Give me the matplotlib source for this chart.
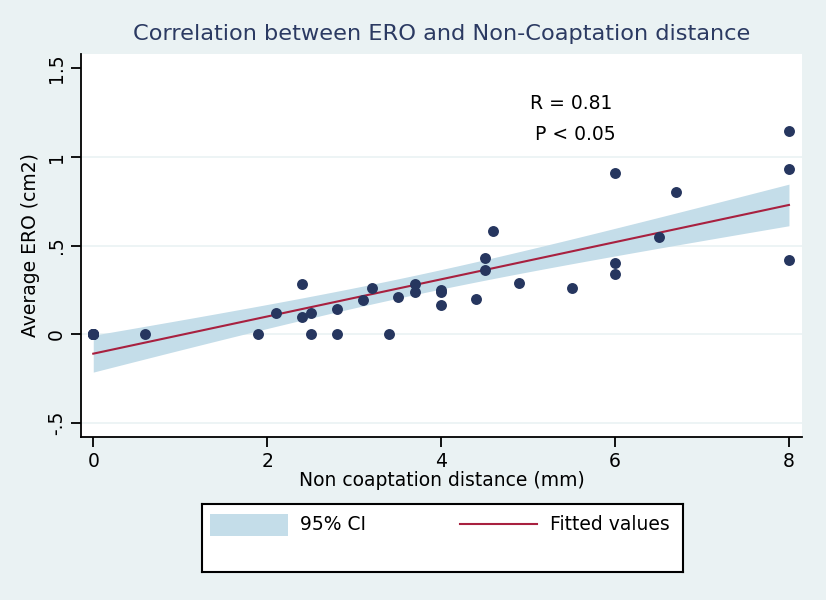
import numpy as np
import matplotlib
matplotlib.use("Agg")
import matplotlib.pyplot as plt
from matplotlib.patches import Rectangle
from matplotlib.lines import Line2D

# distance (mm) vs average ERO (cm2)
# (several patients overlap at the origin)
distance = [0, 0, 0, 0, 0, 0.6, 1.9, 2.1, 2.4, 2.4, 2.5, 2.5, 2.8, 2.8, 3.1,
            3.2, 3.4, 3.5, 3.7, 3.7, 4.0, 4.0, 4.0, 4.4, 4.5, 4.5, 4.6, 4.9,
            5.5, 6.0, 6.0, 6.0, 6.5, 6.7, 8.0, 8.0, 8.0]
ero = [0, 0, 0, 0, 0, 0, 0, 0.12, 0.28, 0.095, 0.12, 0, 0.14, 0, 0.19,
       0.26, 0, 0.21, 0.28, 0.235, 0.25, 0.235, 0.165, 0.20, 0.43, 0.36, 0.58,
       0.29, 0.26, 0.91, 0.40, 0.34, 0.55, 0.80, 1.146, 0.934, 0.42]

yticks = [-0.5, 0, 0.5, 1, 1.5]
ytick_labels = ["-.5", "0", ".5", "1", "1.5"]
xticks = [0, 2, 4, 6, 8]

BG = "#eaf2f3"
NAVY = "#26365f"
MAROON = "#a8203f"
BAND = "#c4dde9"
FONT = "DejaVu Sans"
FS = 13.5

# linear fit + 95% CI of the mean (what lfitci draws)
x = np.array(distance)
y = np.array(ero)
n = len(x)
slope, intercept = np.polyfit(x, y, 1)
resid = y - (intercept + slope * x)
s = np.sqrt((resid ** 2).sum() / (n - 2))
t_crit = 2.03
grid_x = np.linspace(x.min(), x.max(), 100)
fit = intercept + slope * grid_x
se = s * np.sqrt(1 / n + (grid_x - x.mean()) ** 2 / ((x - x.mean()) ** 2).sum())

fig = plt.figure(figsize=(8.26, 6.0), dpi=100, facecolor=BG)
ax = fig.add_axes([81 / 826, 1 - 437 / 600, 721 / 826, 383 / 600])
ax.set_facecolor("white")

ax.fill_between(grid_x, fit - t_crit * se, fit + t_crit * se, color=BAND, lw=0, zorder=1)
ax.plot(grid_x, fit, color=MAROON, lw=1.5, zorder=2)
ax.scatter(x, y, s=62, color=NAVY, zorder=3, lw=0)

ax.set_xlim(-0.141, 8.15)
ax.set_ylim(-0.581, 1.581)
for g in [-0.5, 0, 0.5, 1]:
    ax.axhline(g, color="#eaf2f3", lw=1.2, zorder=0)

ax.set_xticks(xticks)
ax.set_xticklabels([str(v) for v in xticks], fontsize=FS, family=FONT)
ax.set_yticks(yticks)
ax.set_yticklabels(ytick_labels, fontsize=FS, family=FONT, rotation=90, va="center")
ax.tick_params(direction="out", length=7, width=1.3, color="black", pad=4)
for side in ["top", "right"]:
    ax.spines[side].set_visible(False)
for side in ["left", "bottom"]:
    ax.spines[side].set_linewidth(1.3)

ax.set_xlabel("Non coaptation distance (mm)", fontsize=FS, family=FONT, labelpad=0)
ax.set_ylabel("Average ERO (cm2)", fontsize=FS, family=FONT, labelpad=5)
ax.set_title("Correlation between ERO and Non-Coaptation distance",
             fontsize=16.2, family=FONT, color="#2b3a62", pad=10)

ax.text(5.50, 1.304, "R = 0.81", fontsize=FS, family=FONT, ha="center", va="center")
ax.text(5.54, 1.124, "P < 0.05", fontsize=FS, family=FONT, ha="center", va="center")

# legend box like Stata's
lax = fig.add_axes([202 / 826, 1 - 572 / 600, 481 / 826, 68 / 600])
lax.set_xlim(0, 481)
lax.set_ylim(68, 0)
lax.set_xticks([])
lax.set_yticks([])
for sp in lax.spines.values():
    sp.set_linewidth(1.5)
lax.add_patch(Rectangle((8, 10), 78, 22, color=BAND, lw=0))
lax.text(98, 21, "95% CI", fontsize=FS, family=FONT, va="center")
lax.add_line(Line2D([258, 335], [20, 20], color=MAROON, lw=1.5))
lax.text(348, 21, "Fitted values", fontsize=FS, family=FONT, va="center")

fig.savefig("out.png", dpi=100, facecolor=BG)
